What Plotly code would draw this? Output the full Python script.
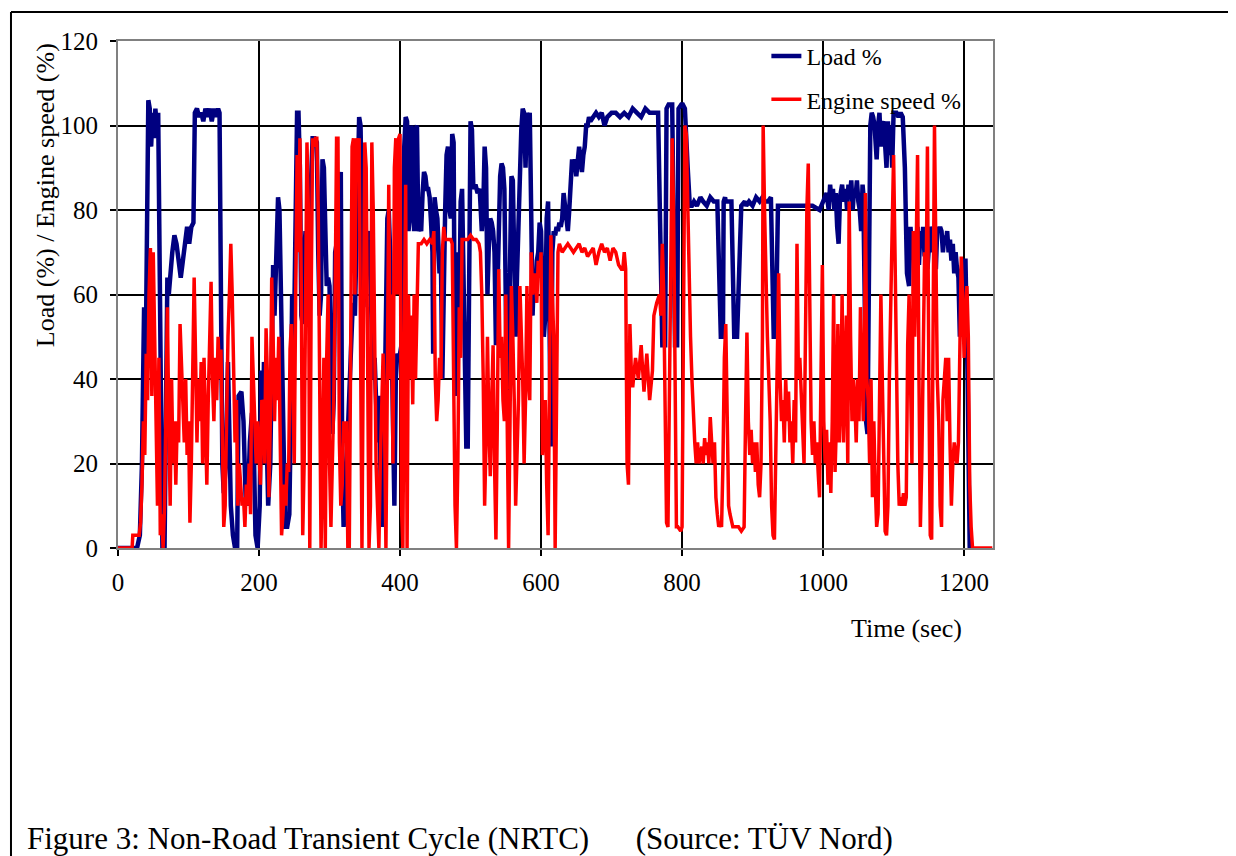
import plotly.graph_objects as go

# ---- Data ----
load_t = [0,27,31,34,36,37,39,41,43,45,47,49,51,53,55,57,59,61,63,66,68,70,72,74,77,80,83,86,89,92,95,98,101,104,107,
          109,112,115,118,121,124,127,130,133,136,139,142,144,146,148,150,153,156,158,160,163,166,169,171,175,178,181,184,
          187,190,193,195,198,201,203,205,207,209,211,213,216,218,220,222,225,227,229,231,233,235,237,240,243,245,247,250,
          252,254,256,258,260,262,264,266,268,270,273,276,279,282,284,286,288,290,292,294,296,298,300,302,304,306,308,310,
          312,314,316,318,320,322,324,327,330,333,336,338,340,342,344,346,348,350,353,356,358,360,362,364,366,368,370,372,
          374,376,378,380,382,384,386,388,390,392,394,396,398,400,402,404,406,408,410,412,414,416,418,420,422,424,426,428,
          430,432,434,436,438,440,442,444,446,447,449,451,453,456,458,460,462,464,466,468,470,472,474,476,478,480,482,484,
          486,488,490,492,494,496,498,500,502,504,507,510,513,516,518,520,522,524,526,528,530,532,534,536,538,540,542,544,
          546,548,550,552,554,556,558,560,562,564,566,568,570,572,574,576,578,580,582,584,586,588,590,592,594,596,598,600,
          602,604,606,608,610,612,614,616,618,620,622,624,626,628,630,632,634,636,638,640,642,644,646,648,650,652,654,656,
          658,660,662,664,666,668,670,674,678,682,686,690,694,700,706,712,718,724,730,736,742,748,754,760,766,772,776,778,
          781,783,786,790,793,795,799,801,804,808,811,814,817,821,826,830,835,840,845,850,855,858,859,861,862,866,870,874,
          876,878,884,889,891,895,900,905,910,914,918,922,926,930,933,935,936,937,945,955,965,975,985,995,1005,1008,1010,
          1012,1014,1016,1018,1020,1022,1024,1027,1029,1032,1034,1036,1038,1040,1042,1044,1046,1048,1050,1052,1054,1056,
          1057,1059,1061,1063,1065,1067,1069,1071,1073,1076,1078,1080,1082,1084,1086,1088,1090,1092,1094,1096,1098,1100,
          1102,1104,1107,1110,1113,1116,1119,1122,1124,1126,1128,1130,1132,1134,1136,1138,1140,1142,1144,1146,1148,1150,
          1152,1154,1156,1158,1160,1162,1164,1166,1168,1170,1172,1174,1176,1178,1180,1182,1184,1186,1188,1190,1192,1194,
          1196,1198,1200,1202,1205,1208,1210,1212,1240]
load_v = [0,0,3,20,45,57,40,85,106,104,95,103,97,104,100,103,60,20,0,0,48,64,60,65,70,74,72,68,64,68,72,76,72,76,77,
          103,104,102,103,101,104,102,104,101,104,102,104,103,60,20,13,20,44,30,10,3,0,0,36,37,30,12,10,
          25,32,20,3,0,10,42,20,44,42,25,10,20,44,67,55,70,83,80,60,40,15,5,5,8,30,60,55,
          85,103,103,90,55,53,70,75,60,68,85,97,97,96,70,55,60,92,90,70,62,64,62,45,27,35,70,72,
          60,85,89,20,5,10,20,35,50,58,55,70,95,102,100,83,57,65,72,75,60,50,40,45,35,25,36,20,
          5,8,30,60,78,80,70,50,30,10,40,46,45,46,48,80,95,102,101,75,78,100,98,75,99,100,75,76,
          75,84,89,88,85,85,83,77,70,46,83,80,78,65,68,40,65,80,93,95,80,78,98,96,36,60,70,55,
          82,85,60,45,24,24,60,101,99,85,86,84,85,75,80,95,90,60,72,78,77,75,70,48,60,83,88,91,
          90,85,60,32,45,70,88,87,70,50,65,80,95,99,104,103,90,103,101,103,80,55,66,60,68,70,77,75,
          60,50,55,78,82,50,24,70,75,74,76,75,77,76,78,84,80,76,75,80,85,92,90,92,88,92,95,92,
          89,93,95,100,100,102,101,102,103,102,103,100,102,103,103,102,103,102,104,103,102,104,103,103,103,48,
          48,104,105,105,105,48,48,104,105,105,104,90,81,81,82,81,83,82,81,83,82,82,50,50,82,83,82,82,
          82,50,50,50,81,82,81,82,81,83,82,83,82,82,83,50,50,81,81,81,81,81,81,81,81,80,84,
          80,86,82,85,80,84,76,72,83,86,82,85,80,86,83,87,80,85,83,87,82,80,
          75,86,84,60,30,27,60,100,103,102,100,92,100,103,95,100,101,96,90,101,93,100,
          90,103,103,103,102,103,102,90,65,62,76,70,75,68,73,76,67,75,72,76,69,74,
          66,70,76,75,70,74,66,76,75,76,75,70,74,72,75,70,73,68,72,65,70,66,
          64,50,65,68,68,68,40,0,0]

speed_t = [0,20,21,30,32,34,36,38,40,42,44,46,48,50,52,54,56,58,60,62,64,66,68,70,72,74,76,78,80,82,84,86,88,90,92,94,
           96,98,100,102,104,106,108,110,112,114,116,118,120,122,124,126,128,130,132,134,136,138,140,142,144,146,148,150,
           152,154,156,158,160,162,164,166,168,170,172,174,176,178,180,182,184,186,188,190,192,194,196,198,200,202,204,206,
           208,210,212,214,216,218,220,222,224,226,228,230,232,234,236,238,240,242,244,246,248,250,252,254,256,258,260,262,
           264,266,268,270,272,274,276,278,280,282,284,286,288,290,292,294,296,298,300,302,304,306,308,310,312,314,316,318,
           320,322,324,326,328,330,332,334,336,338,340,342,344,346,348,350,352,354,356,358,360,362,364,366,368,370,372,374,
           376,378,380,382,384,386,388,390,392,394,396,398,400,402,404,406,408,410,412,414,416,418,420,422,424,426,430,434,
           438,442,446,448,450,452,454,456,458,460,462,464,468,472,474,476,478,480,482,484,486,488,492,496,500,504,508,512,
           514,516,518,520,522,524,526,528,530,532,534,536,538,540,542,544,546,548,550,552,554,556,558,560,562,564,566,568,
           570,572,574,576,578,580,582,584,586,588,590,592,594,596,598,600,602,604,606,608,610,612,614,616,618,620,622,624,
           626,630,634,638,642,646,650,654,658,662,666,670,674,678,682,686,690,694,698,702,706,710,714,716,718,720,722,724,
           726,728,730,734,738,742,746,750,754,758,760,764,768,770,772,774,776,778,780,782,784,786,788,790,792,794,798,800,
           802,804,806,808,810,812,814,816,818,820,822,824,826,828,830,832,834,836,838,840,842,844,846,848,850,852,854,856,
           858,860,862,864,866,868,870,872,876,880,884,888,890,892,894,896,898,900,902,904,906,908,910,912,914,915,917,919,
           921,923,925,927,929,931,933,935,937,939,941,943,945,947,949,951,953,955,957,959,961,963,965,967,969,971,973,975,
           977,979,981,983,985,987,989,991,993,995,997,999,1001,1003,1005,1007,1009,1011,1013,1015,1017,1019,1021,1023,
           1025,1027,1029,1031,1033,1035,1037,1039,1041,1043,1045,1047,1049,1051,1053,1055,1057,1059,1060,1062,1064,1066,
           1068,1070,1072,1074,1076,1078,1080,1082,1084,1086,1088,1090,1092,1094,1096,1098,1100,1102,1104,1106,1108,1110,
           1112,1114,1116,1118,1120,1122,1124,1126,1128,1130,1132,1134,1136,1138,1140,1142,1144,1146,1148,1150,1152,1154,
           1156,1158,1160,1162,1164,1166,1168,1170,1172,1174,1176,1178,1180,1182,1184,1186,1188,1190,1192,1194,1196,1198,
           1200,1202,1204,1206,1208,1210,1212,1240]
speed_v = [0,0,3,3,6,15,30,22,46,35,60,71,36,70,50,25,10,45,3,8,0,10,35,57,30,10,40,20,30,15,30,25,53,45,35,25,
           40,22,30,6,20,40,64,45,25,40,30,44,20,45,30,15,35,50,63,40,30,45,35,50,40,47,30,5,
           10,35,50,60,72,60,40,25,35,10,20,15,10,12,5,15,10,20,8,50,40,25,20,30,22,15,35,34,
           20,52,40,12,30,64,50,30,45,35,50,30,3,8,15,10,20,18,47,53,30,20,60,93,70,97,60,3,
           20,60,96,80,0,60,97,95,97,97,80,40,0,20,45,0,45,60,20,5,20,35,60,97,97,25,10,15,
           30,25,30,0,0,40,95,97,60,97,95,97,40,0,50,96,90,30,0,10,96,80,50,20,10,0,20,35,
           46,30,0,40,86,40,60,20,90,97,60,97,98,10,0,50,86,0,60,40,55,34,60,40,58,72,72,73,
           72,73,72,75,40,30,35,45,40,70,76,73,73,73,72,40,10,0,20,57,45,73,73,73,74,73,73,72,
           70,60,40,10,25,50,30,17,35,48,20,2,30,66,45,50,35,30,60,20,0,30,62,50,35,10,20,35,
           62,50,40,20,35,62,40,35,70,60,62,65,58,68,64,70,22,30,35,15,3,40,74,60,50,0,30,70,
           72,70,71,72,71,70,71,72,70,71,69,70,71,67,70,72,70,71,68,71,70,67,66,66,70,66,20,15,
           53,42,38,45,40,48,37,46,35,42,55,58,60,55,72,60,30,6,5,40,80,97,80,40,5,5,4,5,
           60,100,98,80,60,50,40,30,25,20,25,20,22,24,20,26,22,25,20,31,25,20,25,12,8,5,6,5,
           20,45,53,30,10,8,6,5,5,5,4,5,30,51,30,22,28,20,25,18,25,15,12,20,50,100,80,60,
           50,40,30,10,3,2,25,50,65,40,30,35,25,40,30,37,25,30,20,35,25,72,40,45,38,30,20,50,
           80,91,60,30,22,30,20,25,18,12,40,67,30,20,28,15,25,13,30,60,18,30,53,25,
           35,60,25,45,55,20,82,50,30,40,35,25,40,30,57,45,30,50,84,40,35,20,
           40,12,30,15,5,8,30,60,40,20,4,3,10,40,60,80,93,70,40,20,10,12,
           10,13,10,12,48,60,40,20,75,50,70,93,40,5,20,50,70,60,95,40,3,2,
           50,100,70,40,30,10,5,35,40,45,30,45,25,10,20,25,22,20,25,50,69,60,
           45,55,62,50,15,5,0,0]

series_names = ["Load %", "Engine speed %"]
series_colors = ["#000080", "#FF0000"]

x_ticks = [0, 200, 400, 600, 800, 1000, 1200]
y_ticks = [0, 20, 40, 60, 80, 100, 120]

SERIF = "Liberation Serif, Times New Roman, serif"

fig = go.Figure()
fig.add_trace(go.Scatter(x=load_t, y=load_v, mode="lines", name=series_names[0],
                         legendgroup="a", line=dict(color=series_colors[0], width=4.5)))
fig.add_trace(go.Scatter(x=speed_t, y=speed_v, mode="lines", name=series_names[1],
                         legendgroup="b", line=dict(color=series_colors[1], width=3.5)))

fig.update_layout(
    width=1228, height=848,
    margin=dict(l=110, r=243, t=33, b=308),
    paper_bgcolor="white", plot_bgcolor="white",
    font=dict(family=SERIF, color="black", size=22),
    showlegend=True,
    legend=dict(x=0.741, y=1.014, xanchor="left", yanchor="top",
                bgcolor="rgba(0,0,0,0)", borderwidth=0,
                font=dict(family=SERIF, size=24, color="black"),
                traceorder="grouped", tracegroupgap=9, itemwidth=30),
)

fig.update_xaxes(range=[0, 1241], tickvals=x_ticks, ticktext=[str(v) for v in x_ticks],
                 showgrid=True, gridcolor="black", gridwidth=1.5,
                 showline=True, linecolor="#808080", linewidth=2, mirror=True,
                 ticks="outside", ticklen=6, tickcolor="black", tickwidth=1.5,
                 ticklabelstandoff=5, tickfont=dict(family=SERIF, size=25, color="black"),
                 zeroline=False)
fig.update_yaxes(range=[0, 120], tickvals=y_ticks, ticktext=[str(v) for v in y_ticks],
                 showgrid=True, gridcolor="black", gridwidth=1.5,
                 showline=True, linecolor="#808080", linewidth=2, mirror=True,
                 ticks="outside", ticklen=6, tickcolor="black", tickwidth=1.5,
                 ticklabelstandoff=7, tickfont=dict(family=SERIF, size=25, color="black"),
                 zeroline=False)

# axis titles and caption
fig.add_annotation(text="Load (%) / Engine speed (%)", xref="paper", yref="paper",
                   x=-0.0834, y=0.696, textangle=-90, showarrow=False,
                   xanchor="center", yanchor="middle",
                   font=dict(family=SERIF, size=26, color="black"))
fig.add_annotation(text="Time (sec)", xref="paper", yref="paper",
                   x=0.9006, y=-0.158, showarrow=False, xanchor="center", yanchor="middle",
                   font=dict(family=SERIF, size=26, color="black"))
fig.add_annotation(text="Figure 3: Non-Road Transient Cycle (NRTC)\u00a0\u00a0\u00a0\u00a0\u00a0 (Source: TÜV Nord)",
                   xref="paper", yref="paper", x=-0.1063, y=-0.572, showarrow=False,
                   xanchor="left", yanchor="middle",
                   font=dict(family=SERIF, size=31, color="black"))

# page frame lines (top and left)
fig.add_shape(type="line", xref="paper", yref="paper", x0=-0.1223, x1=1.28, y0=1.0572, y1=1.0572,
              line=dict(color="black", width=2))
fig.add_shape(type="line", xref="paper", yref="paper", x0=-0.1223, x1=-0.1223, y0=1.0572, y1=-0.61,
              line=dict(color="black", width=2))

fig.write_html("out.html")
